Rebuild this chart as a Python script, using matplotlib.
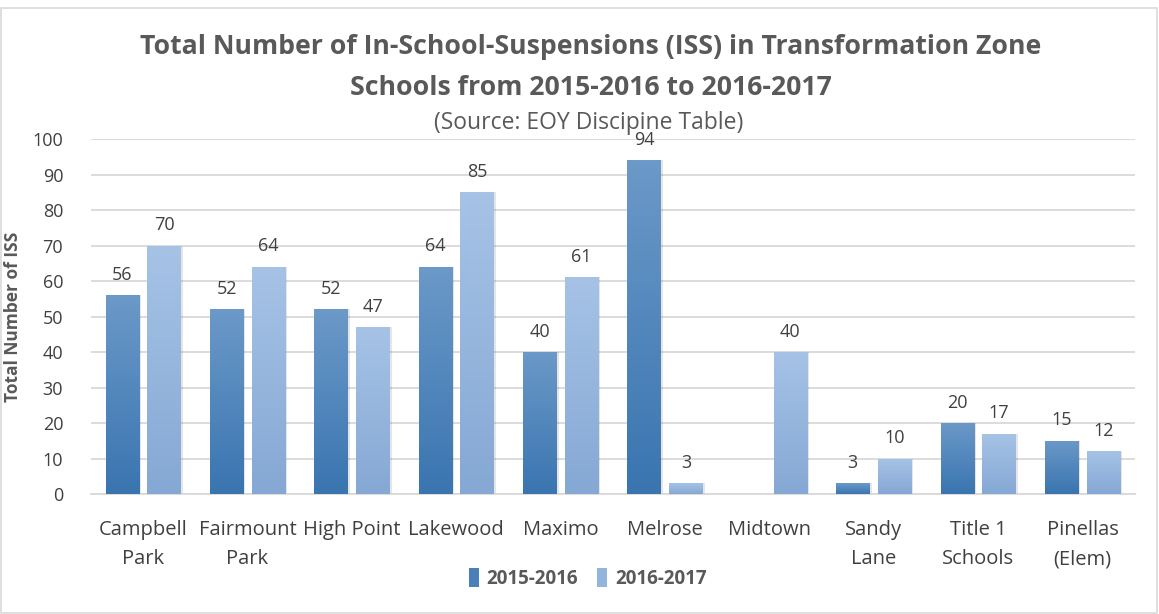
import matplotlib
matplotlib.use("Agg")
import matplotlib.pyplot as plt
import numpy as np
from matplotlib.patches import Rectangle
from matplotlib.colors import LinearSegmentedColormap

categories = ["Campbell\nPark", "Fairmount\nPark", "High Point", "Lakewood", "Maximo",
              "Melrose", "Midtown", "Sandy\nLane", "Title 1\nSchools", "Pinellas\n(Elem)"]
series_names = ["2015-2016", "2016-2017"]
vals_2015 = [56, 52, 52, 64, 40, 94, None, 3, 20, 15]
vals_2016 = [70, 64, 47, 85, 61, 3, 40, 10, 17, 12]
yticks = [0, 10, 20, 30, 40, 50, 60, 70, 80, 90, 100]

plt.rcParams['font.family'] = ['Open Sans', 'DejaVu Sans']

fig = plt.figure(figsize=(11.59, 6.14), dpi=100)
fig.patches.append(Rectangle((0.001, 0.002), 0.997, 0.985, transform=fig.transFigure,
                             fill=False, edgecolor="#d9d9d9", linewidth=1.2))
ax = fig.add_axes([0.0785, 0.1954, 0.9005, 0.5782])

x = np.arange(len(categories))
w = 0.32
off = 0.2
cm_dark = LinearSegmentedColormap.from_list("d", ["#3a75b0", "#6b99c8"])
cm_light = LinearSegmentedColormap.from_list("l", ["#85a8d4", "#a6c3e6"])
grad = np.linspace(0, 1, 100).reshape(-1, 1)

def draw_bars(vals, dx, cmap, solid):
    for xi, v in zip(x, vals):
        if v is None:
            continue
        x0 = xi + dx - w / 2
        ax.add_patch(Rectangle((x0 + 0.02, 0), w, v, facecolor="#000000", alpha=0.10,
                               edgecolor="none", zorder=2))
        r = Rectangle((x0, 0), w, v, facecolor=solid, edgecolor="none", zorder=3)
        ax.add_patch(r)
        im = ax.imshow(grad, extent=(x0, x0 + w, 0, v), origin="lower", cmap=cmap,
                       aspect="auto", zorder=3.5, interpolation="bicubic")
        im.set_clip_path(r)
        ax.text(xi + dx, v + 3.2, str(v), ha="center", va="bottom", fontsize=13,
                color="#404040", zorder=5)

draw_bars(vals_2015, -off, cm_dark, "#4f86bf")
draw_bars(vals_2016, off, cm_light, "#95b6dd")

ax.set_xlim(-0.5, len(categories) - 0.5)
ax.set_ylim(0, 100)
ax.set_yticks(yticks)
ax.set_yticklabels([str(t) for t in yticks], fontsize=13, color="#404040")
ax.set_xticks(x)
ax.set_xticklabels(categories, fontsize=14.5, color="#404040", linespacing=1.6)
ax.tick_params(axis="both", length=0)
ax.tick_params(axis="x", pad=19)
ax.tick_params(axis="y", pad=20)
ax.grid(axis="y", color="#d9d9d9", linewidth=1.3, zorder=0)
ax.set_axisbelow(True)
for s in ["top", "right", "left"]:
    ax.spines[s].set_visible(False)
ax.spines["bottom"].set_color("#d9d9d9")
ax.spines["bottom"].set_linewidth(1.3)
ax.set_ylabel("Total Number of ISS", fontsize=12.5, fontweight="bold", color="#595959")
ax.yaxis.set_label_coords(-0.066, 0.5)

fig.text(0.51, 0.923, "Total Number of In-School-Suspensions (ISS) in Transformation Zone",
         ha="center", va="center", fontsize=19.2, fontweight="bold", color="#595959")
fig.text(0.51, 0.856, "Schools from 2015-2016 to 2016-2017",
         ha="center", va="center", fontsize=19.2, fontweight="bold", color="#595959")
fig.text(0.508, 0.800, "(Source: EOY Discipine Table)", ha="center", va="center",
         fontsize=16.5, color="#595959")

handles = [Rectangle((0, 0), 1, 1, facecolor="#4a80ba"),
           Rectangle((0, 0), 1, 1, facecolor="#93b4dc")]
fig.legend(handles, series_names, loc="center", bbox_to_anchor=(0.507, 0.058), ncol=2,
           frameon=False, handlelength=0.55, handleheight=1.2, handletextpad=0.4,
           columnspacing=1.0, prop={"weight": "bold", "size": 13.5},
           labelcolor="#595959")

fig.savefig("out.png", dpi=100)
